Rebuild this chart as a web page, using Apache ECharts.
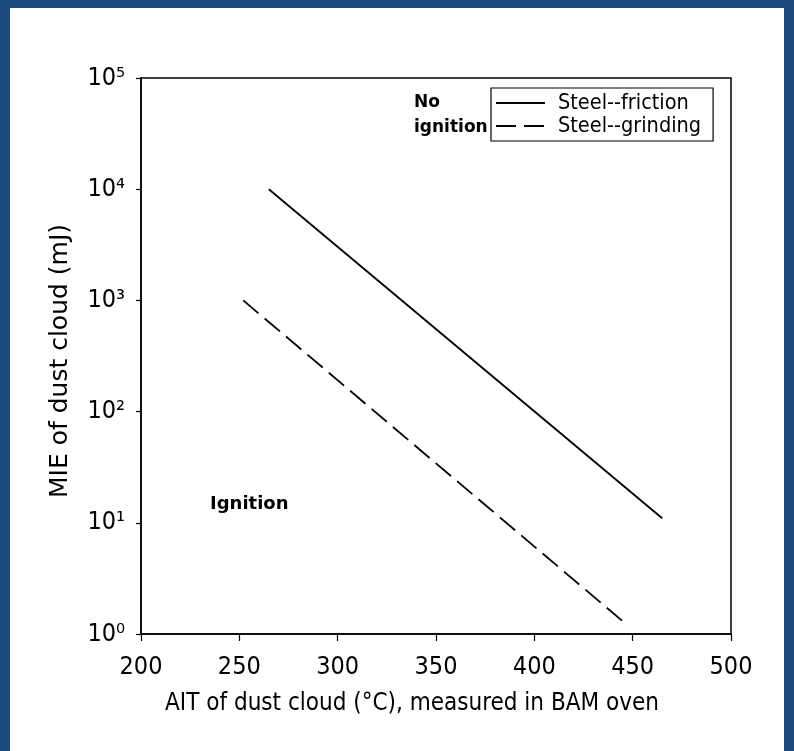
<!DOCTYPE html>
<html>
<head>
<meta charset="utf-8">
<script src="https://cdn.jsdelivr.net/npm/echarts@6/dist/echarts.min.js"></script>
<style>
  html, body { margin: 0; padding: 0; background: #1f4a7e; }
  #frame { position: absolute; left: 0; top: 0; width: 794px; height: 751px; background: #1f4a7e; }
  #chart { position: absolute; left: 10px; top: 8px; width: 774px; height: 743px; background: #ffffff; }
</style>
</head>
<body>
<div id="frame"></div>
<div id="chart"></div>
<script>
// ---- data ----
const frictionAIT = [265, 465];
const frictionMIE = [10000, 11];
const grindingAIT = [252, 445];
const grindingMIE = [1000, 1.3];
const seriesNames = ['Steel--friction', 'Steel--grinding'];
const yTickLabels = ['10\u2070', '10\u00b9', '10\u00b2', '10\u00b3', '10\u2074', '10\u2075'];
const xAxisTitle = 'AIT of dust cloud (\u00b0C), measured in BAM oven';
const yAxisTitle = 'MIE of dust cloud (mJ)';
const regionLabels = ['No\nignition', 'Ignition'];

const FONT = "'DejaVu Sans Condensed', 'DejaVu Sans', sans-serif";
const chart = echarts.init(document.getElementById('chart'), null, { renderer: 'canvas' });

function pairs(xs, ys) { return xs.map((x, i) => [x, ys[i]]); }

const option = {
  backgroundColor: '#ffffff',
  animation: false,
  grid: {
    left: 131, right: 53, top: 70, bottom: 117,
    show: true, borderColor: '#000', borderWidth: 1.5, backgroundColor: 'transparent'
  },
  legend: {
    orient: 'vertical',
    left: 481, top: 80,
    borderColor: '#000', borderWidth: 1.2,
    padding: [4, 12, 4, 4],
    itemGap: 1,
    itemWidth: 49, itemHeight: 16,
    itemStyle: { opacity: 0, color: 'rgba(0,0,0,0)', borderWidth: 0 },
    textStyle: { fontFamily: FONT, fontSize: 21.5, color: '#000', padding: [0, 0, 0, 8] },
    data: seriesNames
  },
  xAxis: {
    type: 'value', min: 200, max: 500, interval: 50,
    name: xAxisTitle, nameLocation: 'middle', nameGap: 58,
    nameTextStyle: { fontFamily: FONT, fontSize: 24, color: '#000', padding: [0, 48, 0, 0] },
    axisLine: { show: true, lineStyle: { color: '#000', width: 1.5 } },
    axisTick: { show: true, inside: false, length: 7, lineStyle: { color: '#000', width: 1.2 } },
    axisLabel: { fontFamily: FONT, fontSize: 25, color: '#000', margin: 21 },
    splitLine: { show: false }
  },
  yAxis: {
    type: 'log', logBase: 10, min: 1, max: 100000,
    name: yAxisTitle, nameLocation: 'middle', nameGap: 68, nameRotate: 90,
    nameTextStyle: { fontFamily: "'DejaVu Sans', sans-serif", fontSize: 25, color: '#000', padding: [0, 10, 0, 0] },
    axisLine: { show: true, lineStyle: { color: '#000', width: 1.5 } },
    axisTick: { show: true, inside: false, length: 5, lineStyle: { color: '#000', width: 1.2 } },
    minorTick: { show: false },
    axisLabel: {
      fontFamily: FONT, fontSize: 25, color: '#000', margin: 16,
      formatter: function (v) {
        const i = Math.round(Math.log10(v));
        return yTickLabels[i] !== undefined ? yTickLabels[i] : '';
      }
    },
    splitLine: { show: false }
  },
  graphic: [
    {
      type: 'text', left: 404, top: 82, z: 10,
      style: { text: regionLabels[0], font: "bold 17px 'DejaVu Sans', sans-serif", fill: '#000', lineHeight: 25 }
    },
    {
      type: 'text', left: 200, top: 487, z: 10,
      style: { text: regionLabels[1], font: "bold 18px 'DejaVu Sans', sans-serif", fill: '#000' }
    }
  ],
  series: [
    {
      name: seriesNames[0], type: 'line', symbol: 'none',
      data: pairs(frictionAIT, frictionMIE),
      lineStyle: { color: '#000', width: 1.8, type: 'solid' },
      itemStyle: { color: '#000' }
    },
    {
      name: seriesNames[1], type: 'line', symbol: 'none',
      data: pairs(grindingAIT, grindingMIE),
      lineStyle: { color: '#000', width: 1.8, type: [20, 8] },
      itemStyle: { color: '#000' }
    }
  ]
};
chart.setOption(option);
</script>
</body>
</html>
